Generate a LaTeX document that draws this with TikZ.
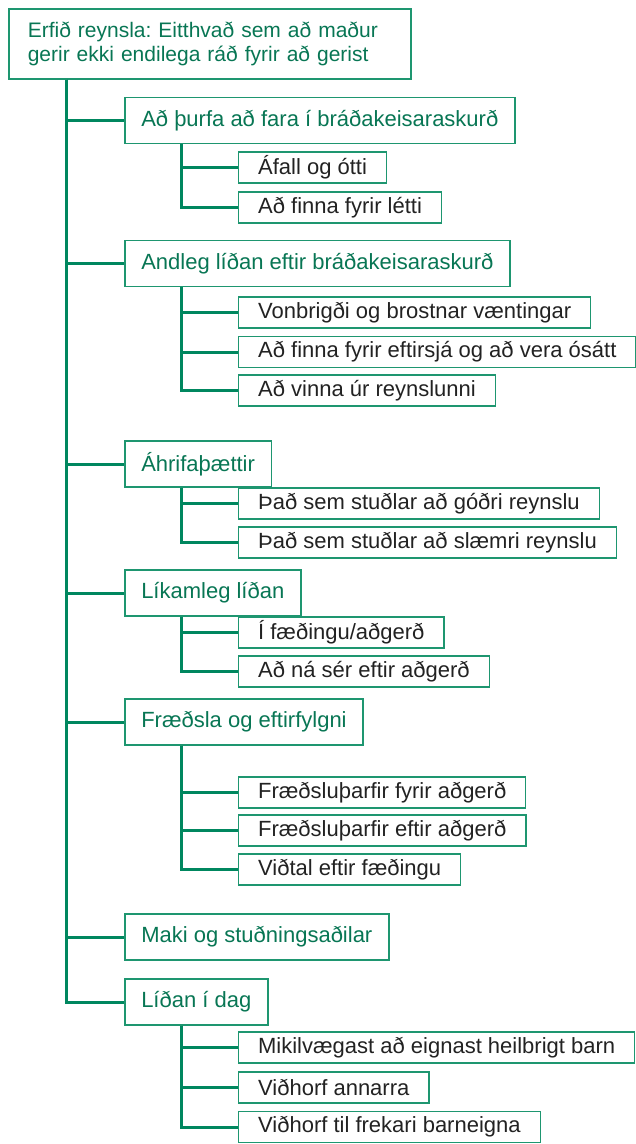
\documentclass[tikz,border=0pt]{standalone}
\usepackage{fontspec}
\setmainfont{Liberation Sans}
\frenchspacing
\definecolor{gline}{RGB}{0,135,95}
\definecolor{gbord}{RGB}{30,150,112}
\definecolor{gtext}{RGB}{8,118,84}
\definecolor{dtext}{RGB}{34,34,34}
\begin{document}
\begin{tikzpicture}[x=1pt,y=-1pt,
  every node/.style={font=\fontsize{22}{24.5}\selectfont},
  rootbox/.style={draw=gbord,line width=1.5pt,text=gtext,align=left,anchor=north west,
    font=\fontsize{21}{24.5}\selectfont,
    inner xsep=19pt,inner ysep=0pt,minimum height=70pt,text width=364pt},
  topicbox/.style={draw=gbord,line width=1.5pt,text=gtext,anchor=west,
    inner xsep=16.5pt,inner ysep=0pt,minimum height=46pt},
  subbox/.style={draw=gbord,line width=1.3pt,text=dtext,anchor=west,
    inner xsep=19.5pt,inner ysep=0pt,minimum height=31pt},
  trunk/.style={draw=gline,line width=3pt}]
\useasboundingbox (0,0) rectangle (635,1144);

\node[rootbox] (root) at (8,8) {Erfið reynsla: Eitthvað sem að maður\\gerir ekki endilega ráð fyrir að gerist};

\node[topicbox] (L1) at (124,120.5) {Að þurfa að fara í bráðakeisaraskurð};
\node[topicbox] (L2) at (124,263.5) {Andleg líðan eftir bráðakeisaraskurð};
\node[topicbox] (L3) at (124,464) {Áhrifaþættir};
\node[topicbox] (L4) at (124,593) {Líkamleg líðan};
\node[topicbox] (L5) at (124,722) {Fræðsla og eftirfylgni};
\node[topicbox] (L6) at (124,937) {Maki og stuðningsaðilar};
\node[topicbox] (L7) at (124,1002) {Líðan í dag};

\node[subbox] (S1a) at (238,167.5) {Áfall og ótti};
\node[subbox] (S1b) at (238,207.5) {Að finna fyrir létti};
\node[subbox] (S2a) at (238,312.5) {Vonbrigði og brostnar væntingar};
\node[subbox] (S2b) at (238,352) {Að finna fyrir eftirsjá og að vera ósátt};
\node[subbox] (S2c) at (238,390.5) {Að vinna úr reynslunni};
\node[subbox] (S3a) at (238,503.5) {Það sem stuðlar að góðri reynslu};
\node[subbox] (S3b) at (238,542.5) {Það sem stuðlar að slæmri reynslu};
\node[subbox] (S4a) at (238,632.5) {Í fæðingu/aðgerð};
\node[subbox] (S4b) at (238,671.5) {Að ná sér eftir aðgerð};
\node[subbox] (S5a) at (238,792.5) {Fræðsluþarfir fyrir aðgerð};
\node[subbox] (S5b) at (238,830.5) {Fræðsluþarfir eftir aðgerð};
\node[subbox] (S5c) at (238,869.5) {Viðtal eftir fæðingu};
\node[subbox] (S7a) at (238,1047.5) {Mikilvægast að eignast heilbrigt barn};
\node[subbox] (S7b) at (238,1087.5) {Viðhorf annarra};
\node[subbox] (S7c) at (238,1127) {Viðhorf til frekari barneigna};

\foreach \t in {L1,L2,L3,L4,L5,L6,L7}
  \draw[trunk] ([xshift=58pt]root.south west) |- (\t.west);

\foreach \p/\s in {L1/S1a,L1/S1b,L2/S2a,L2/S2b,L2/S2c,L3/S3a,L3/S3b,L4/S4a,L4/S4b,L5/S5a,L5/S5b,L5/S5c,L7/S7a,L7/S7b,L7/S7c}
  \draw[trunk] ([xshift=57pt]\p.south west) |- (\s.west);
\end{tikzpicture}
\end{document}
